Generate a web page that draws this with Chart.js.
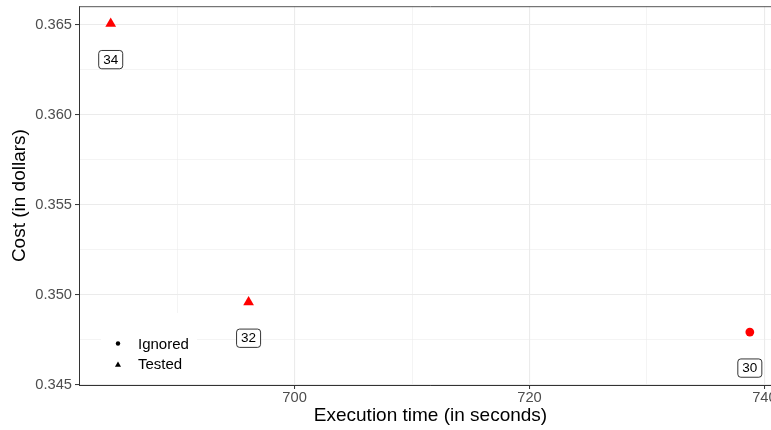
<!DOCTYPE html>
<html>
<head>
<meta charset="utf-8">
<script src="https://cdn.jsdelivr.net/npm/chart.js@4/dist/chart.umd.min.js"></script>
<style>
  html, body { margin: 0; padding: 0; overflow: hidden; background: #fff; }
  canvas { display: block; }
</style>
</head>
<body>
<canvas id="c" width="790" height="430"></canvas>
<script>
// ---- data ----
const ignoredTime = [738.76];
const ignoredCost = [0.34792];
const ignoredLabels = ['30'];

const testedTime = [684.34, 696.08];
const testedCost = [0.36507, 0.34958];
const testedLabels = ['34', '32'];

const legendLabels = ['Ignored', 'Tested'];

const xMajorTicks = [700, 720, 740];
const xMinorTicks = [690, 710, 730];
const yMajorTicks = [0.345, 0.350, 0.355, 0.360, 0.365];
const yMinorTicks = [0.3475, 0.3525, 0.3575, 0.3625];
const xRange = [681.64, 741.5];
const yRange = [0.34498, 0.36604];
const labelNudge = -0.002;

const FONT = "'Liberation Sans', Arial, Helvetica, sans-serif";
Chart.defaults.font.family = FONT;

function isMajor(list, v) { return list.some(m => Math.abs(m - v) < 1e-9); }

const overlay = {
  id: 'overlay',
  beforeDatasetsDraw(chart) {
    const { ctx, chartArea: a } = chart;
    ctx.save();
    // top panel border
    ctx.strokeStyle = '#555';
    ctx.lineWidth = 1;
    ctx.beginPath();
    ctx.moveTo(a.left, a.top + 0.5);
    ctx.lineTo(a.right, a.top + 0.5);
    ctx.stroke();
    // legend inside the panel
    ctx.fillStyle = '#fff';
    ctx.fillRect(101, 313, 96, 71);
    ctx.fillStyle = '#000';
    // dot
    ctx.beginPath();
    ctx.arc(118, 343.5, 2.2, 0, Math.PI * 2);
    ctx.fill();
    // triangle
    const r = 3.5, tx = 118, ty = 365;
    ctx.beginPath();
    ctx.moveTo(tx, ty - r);
    ctx.lineTo(tx + 0.866 * r, ty + 0.5 * r);
    ctx.lineTo(tx - 0.866 * r, ty + 0.5 * r);
    ctx.closePath();
    ctx.fill();
    ctx.font = '15px ' + FONT;
    ctx.textBaseline = 'middle';
    ctx.textAlign = 'left';
    ctx.fillText(legendLabels[0], 138, 344.5);
    ctx.fillText(legendLabels[1], 138, 364.5);
    ctx.restore();
  },
  afterDatasetsDraw(chart) {
    const { ctx } = chart;
    const xs = chart.scales.x, ys = chart.scales.y;
    const groups = [[ignoredTime, ignoredCost, ignoredLabels], [testedTime, testedCost, testedLabels]];
    ctx.save();
    ctx.font = '13.5px ' + FONT;
    ctx.textAlign = 'center';
    ctx.textBaseline = 'middle';
    groups.forEach(([tx, cy, lb]) => {
      tx.forEach((t, i) => {
        const px = xs.getPixelForValue(t);
        const py = ys.getPixelForValue(cy[i] + labelNudge);
        const w = ctx.measureText(lb[i]).width + 9;
        const h = 18.3;
        ctx.beginPath();
        ctx.roundRect(px - w / 2, py - h / 2, w, h, 3);
        ctx.fillStyle = '#fff';
        ctx.fill();
        ctx.strokeStyle = '#000';
        ctx.lineWidth = 0.8;
        ctx.stroke();
        ctx.fillStyle = '#000';
        ctx.fillText(lb[i], px, py + 0.5);
      });
    });
    ctx.restore();
  }
};

new Chart(document.getElementById('c'), {
  type: 'scatter',
  data: {
    datasets: [
      {
        label: legendLabels[0],
        data: ignoredTime.map((t, i) => ({ x: t, y: ignoredCost[i] })),
        pointStyle: 'circle',
        pointRadius: 4.4,
        pointBorderWidth: 0,
        backgroundColor: '#FF0000',
        borderColor: '#FF0000'
      },
      {
        label: legendLabels[1],
        data: testedTime.map((t, i) => ({ x: t, y: testedCost[i] })),
        pointStyle: 'triangle',
        pointRadius: 6.2,
        pointBorderWidth: 0,
        backgroundColor: '#FF0000',
        borderColor: '#FF0000'
      }
    ]
  },
  options: {
    responsive: false,
    animation: false,
    events: [],
    layout: { padding: { left: 0, top: 6, right: 8, bottom: 0 } },
    plugins: { legend: { display: false }, tooltip: { enabled: false } },
    scales: {
      x: {
        type: 'linear',
        min: xRange[0],
        max: xRange[1],
        afterBuildTicks: s => { s.ticks = [...xMajorTicks, ...xMinorTicks].sort((a, b) => a - b).map(v => ({ value: v })); },
        afterFit: s => { s.height = 45; s.paddingLeft = 0; s.paddingRight = 0; },
        ticks: {
          autoSkip: false,
          maxRotation: 0,
          padding: 0,
          color: '#4D4D4D',
          font: { size: 14.7 },
          callback: v => isMajor(xMajorTicks, v) ? String(v) : ''
        },
        grid: {
          color: '#EBEBEB',
          lineWidth: c => (c.tick && isMajor(xMajorTicks, c.tick.value)) ? 1.1 : 0.55,
          tickLength: 4,
          tickColor: c => (c.tick && isMajor(xMajorTicks, c.tick.value)) ? '#333' : 'rgba(0,0,0,0)',
          tickWidth: 1
        },
        border: { color: '#333', width: 1 },
        title: {
          display: true,
          text: 'Execution time (in seconds)',
          color: '#000',
          font: { size: 19 },
          padding: { top: 0, bottom: 2.6 }
        }
      },
      y: {
        type: 'linear',
        min: yRange[0],
        max: yRange[1],
        afterBuildTicks: s => { s.ticks = [...yMajorTicks, ...yMinorTicks].sort((a, b) => a - b).map(v => ({ value: v })); },
        afterFit: s => { s.width = 79; s.paddingTop = 0; s.paddingBottom = 0; },
        ticks: {
          autoSkip: false,
          padding: 3,
          color: '#4D4D4D',
          font: { size: 14.7 },
          callback: v => isMajor(yMajorTicks, v) ? v.toFixed(3) : ''
        },
        grid: {
          color: '#EBEBEB',
          lineWidth: c => (c.tick && isMajor(yMajorTicks, c.tick.value)) ? 1.1 : 0.55,
          tickLength: 4,
          tickColor: c => (c.tick && isMajor(yMajorTicks, c.tick.value)) ? '#333' : 'rgba(0,0,0,0)',
          tickWidth: 1
        },
        border: { color: '#333', width: 1 },
        title: {
          display: true,
          text: 'Cost (in dollars)',
          color: '#000',
          font: { size: 19 },
          padding: { top: 8.6, bottom: 0 }
        }
      }
    }
  },
  plugins: [overlay]
});
</script>
</body>
</html>
